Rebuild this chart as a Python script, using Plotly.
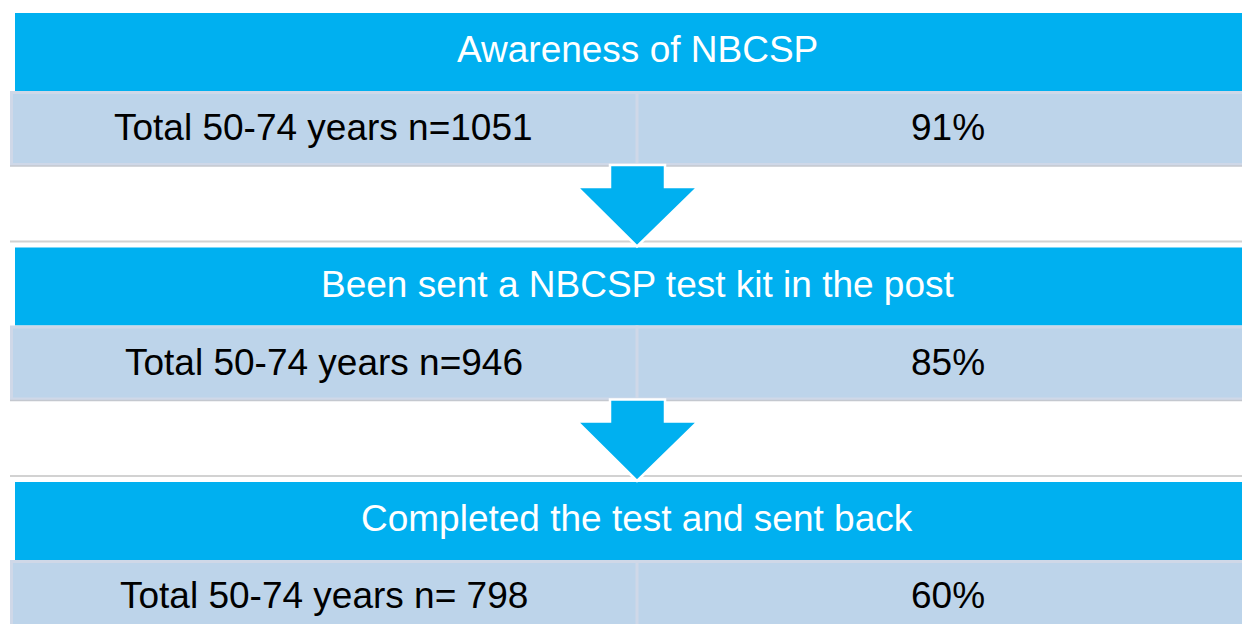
import plotly.graph_objects as go

# ---- data ----
stages = ["Awareness of NBCSP",
          "Been sent a NBCSP test kit in the post",
          "Completed the test and sent back"]
row_labels = ["Total 50-74 years n=1051",
              "Total 50-74 years n=946",
              "Total 50-74 years n= 798"]
percentages = [91, 85, 60]

# ---- styles / layout geometry ----
W, H = 1250, 624
OFF = 8  # page body margin compensation
HEADER_COLOR = "#00B0F0"
ROW_COLOR = "#BDD4EA"
ROW_BORDER = "#CFD8E8"
FONT = "Liberation Sans, Arial, sans-serif"
FS = 37
stage_step = 234.5
top0 = 13
header_h = 78
row_h = 75
x_left_header, x_left_row, x_right = 15, 10, 1262
x_div = 637

fig = go.Figure()
shapes = []
annotations = []

for i, (title, lab, pct) in enumerate(zip(stages, row_labels, percentages)):
    top = top0 + i * stage_step
    hb = top + header_h
    rb = hb + row_h
    row_mid = hb + 36.5 - (1.5 if i == len(stages) - 1 else 0)
    if i > 0:
        shapes.append(dict(type="line", xref="x", yref="y", x0=x_left_row, x1=x_right,
                           y0=top - 6, y1=top - 6, line=dict(color="#D2D2D2", width=2), layer="below"))
    shapes.append(dict(type="rect", xref="x", yref="y", x0=x_left_header, x1=x_right,
                       y0=top, y1=hb, fillcolor=HEADER_COLOR, line=dict(width=0), layer="below"))
    shapes.append(dict(type="rect", xref="x", yref="y", x0=x_left_row + 1.5, x1=x_right,
                       y0=hb + 1.5, y1=rb - 1.5, fillcolor=ROW_COLOR,
                       line=dict(color=ROW_BORDER, width=3), layer="below"))
    shapes.append(dict(type="line", xref="x", yref="y", x0=x_left_row, x1=x_right,
                       y0=rb, y1=rb, line=dict(color="#C4C8CF", width=1.5), layer="below"))
    shapes.append(dict(type="line", xref="x", yref="y", x0=x_div, x1=x_div,
                       y0=hb, y1=rb, line=dict(color=ROW_BORDER, width=3), layer="below"))
    annotations.append(dict(xref="x", yref="y", x=x_div, y=(top + hb) / 2 - 2.5, text=title,
                            showarrow=False, font=dict(family=FONT, size=FS, color="white"),
                            xanchor="center", yanchor="middle"))
    annotations.append(dict(xref="x", yref="y", x=(x_left_row + x_div) / 2, y=row_mid,
                            text=lab, showarrow=False,
                            font=dict(family=FONT, size=FS, color="black"),
                            xanchor="center", yanchor="middle"))
    annotations.append(dict(xref="x", yref="y", x=(x_div + x_right) / 2 - 2, y=row_mid,
                            text=f"{pct}%", showarrow=False,
                            font=dict(family=FONT, size=FS, color="black"),
                            xanchor="center", yanchor="middle"))
    if i < len(stages) - 1:
        ntop = top0 + (i + 1) * stage_step
        sy = rb - 1
        hy = rb + 21
        ty = ntop - 1
        path = (f"M {x_div-27},{sy} L {x_div+28},{sy} L {x_div+28},{hy} L {x_div+61},{hy} "
                f"L {x_div},{ty} L {x_div-60},{hy} L {x_div-27},{hy} Z")
        shapes.append(dict(type="path", xref="x", yref="y", path=path,
                           fillcolor=HEADER_COLOR, line=dict(color="white", width=2.5), layer="above"))

fig.update_layout(
    width=W, height=H,
    margin=dict(l=0, r=0, t=0, b=0),
    paper_bgcolor="white", plot_bgcolor="white",
    xaxis=dict(range=[OFF, W + OFF], visible=False, fixedrange=True),
    yaxis=dict(range=[H + OFF, OFF], visible=False, fixedrange=True),
    shapes=shapes, annotations=annotations, showlegend=False,
)
fig.write_html("out.html")
